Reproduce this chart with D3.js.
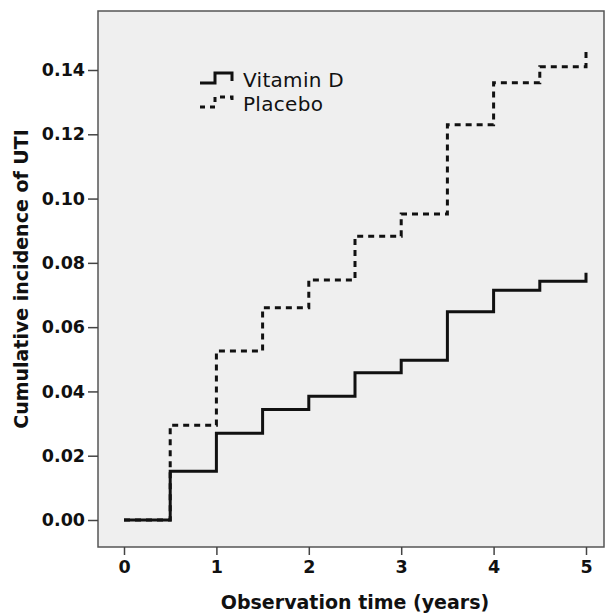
<!DOCTYPE html>
<html>
<head>
<meta charset="utf-8">
<script src="https://cdn.jsdelivr.net/npm/d3@7"></script>
<style>
  body { margin: 0; background: #fff; }
  text { font-family: "DejaVu Sans", sans-serif; fill: #111; }
</style>
</head>
<body>
<div id="chart-area"></div>
<script>
// data
const times = [0, 0.5, 1, 1.5, 2, 2.5, 3, 3.5, 4, 4.5, 5];
const vitaminD = [0, 0.0152, 0.027, 0.0344, 0.0385, 0.0458, 0.0497, 0.0648, 0.0715, 0.0743, 0.0769];
const placebo = [0, 0.0295, 0.0526, 0.066, 0.0747, 0.0883, 0.0952, 0.123, 0.136, 0.141, 0.146];
const xTicks = [0, 1, 2, 3, 4, 5];
const yTicks = [0, 0.02, 0.04, 0.06, 0.08, 0.10, 0.12, 0.14];
const seriesNames = ["Vitamin D", "Placebo"];

const W = 607, H = 615;
const box = { left: 98, top: 11, right: 604, bottom: 547 };

const svg = d3.select("#chart-area").append("svg")
	.attr("width", W)
	.attr("height", H);

const x = d3.scaleLinear().domain([0, 5]).range([124, 586]);
const y = d3.scaleLinear().domain([0, 0.14]).range([520, 70]);

// plot background
svg.append("rect")
	.attr("x", box.left)
	.attr("y", box.top)
	.attr("width", box.right - box.left)
	.attr("height", box.bottom - box.top)
	.attr("fill", "#efefef")
	.attr("stroke", "#555")
	.attr("stroke-width", 1.5);

// y axis
const yAxis = svg.append("g")
	.attr("transform", `translate(${box.left}, 0)`)
	.call(d3.axisLeft(y).tickValues(yTicks).tickSize(10).tickSizeOuter(0).tickPadding(3)
		.tickFormat(d3.format(".2f")));
yAxis.select(".domain").remove();
yAxis.selectAll(".tick line").attr("stroke", "#444").attr("stroke-width", 1.5);
yAxis.selectAll(".tick text")
	.attr("font-size", "17.5px")
	.attr("font-weight", "bold")
	.attr("font-family", "DejaVu Sans, sans-serif")
	.attr("fill", "#111");

// x axis
const xAxis = svg.append("g")
	.attr("transform", `translate(0, ${box.bottom})`)
	.call(d3.axisBottom(x).tickValues(xTicks).tickSize(8).tickSizeOuter(0).tickPadding(6)
		.tickFormat(d3.format("d")));
xAxis.select(".domain").remove();
xAxis.selectAll(".tick line").attr("stroke", "#444").attr("stroke-width", 1.5);
xAxis.selectAll(".tick text")
	.attr("font-size", "17.5px")
	.attr("font-weight", "bold")
	.attr("font-family", "DejaVu Sans, sans-serif")
	.attr("fill", "#111");

// axis titles
svg.append("text")
	.attr("x", 355)
	.attr("y", 609)
	.attr("font-size", "19px")
	.attr("font-weight", "bold")
	.attr("text-anchor", "middle")
	.text("Observation time (years)");

svg.append("text")
	.attr("transform", "rotate(-90)")
	.attr("x", -279)
	.attr("y", 28)
	.attr("font-size", "19px")
	.attr("font-weight", "bold")
	.attr("text-anchor", "middle")
	.text("Cumulative incidence of UTI");

// step lines
const line = d3.line()
	.x(d => x(d[0]))
	.y(d => y(d[1]))
	.curve(d3.curveStepAfter);

svg.append("path")
	.datum(times.map((t, i) => [t, placebo[i]]))
	.attr("d", line)
	.attr("fill", "none")
	.attr("stroke", "#111")
	.attr("stroke-width", 3)
	.attr("stroke-dasharray", "6,5");

svg.append("path")
	.datum(times.map((t, i) => [t, vitaminD[i]]))
	.attr("d", line)
	.attr("fill", "none")
	.attr("stroke", "#111")
	.attr("stroke-width", 3);

// legend
const legend = svg.append("g").attr("transform", "translate(200, 78)");
seriesNames.forEach((name, i) => {
	const gy = i * 24;
	legend.append("path")
		.attr("d", `M0,${gy + 5} H15 V${gy - 5} H32 V${gy + 3}`)
		.attr("fill", "none")
		.attr("stroke", "#111")
		.attr("stroke-width", 3)
		.attr("stroke-dasharray", i === 0 ? null : "5,5");
	legend.append("text")
		.attr("x", 43)
		.attr("y", gy + 9)
		.attr("font-size", "20px")
		.attr("letter-spacing", "0.3px")
		.text(name);
});
</script>
</body>
</html>
